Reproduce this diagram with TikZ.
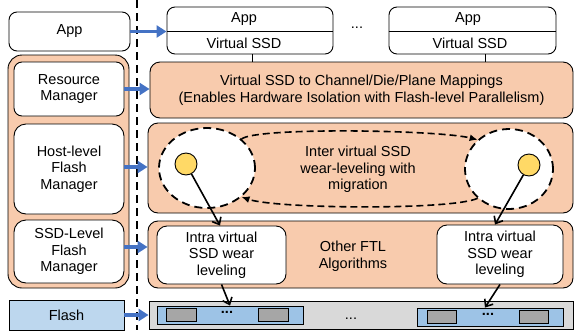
\documentclass[tikz,border=0pt]{standalone}
\usepackage{fontspec}
\setmainfont{Liberation Sans}
\usetikzlibrary{arrows.meta,shapes.geometric,calc}
\definecolor{peach}{HTML}{F8CBAD}
\definecolor{flashblue}{HTML}{BDD7EE}
\definecolor{chipblue}{HTML}{9DC3E6}
\definecolor{chipgray}{HTML}{A6A6A6}
\definecolor{bggray}{HTML}{D9D9D9}
\definecolor{sun}{HTML}{FFD966}
\definecolor{arrowblue}{HTML}{4472C4}
\begin{document}
\begin{tikzpicture}[x=1pt,y=-1pt,
  every node/.style={font=\fontsize{14.5}{16.5}\selectfont, align=center},
  wbox/.style={draw, fill=white, rounded corners=8pt, line width=0.9pt, inner sep=0pt},
  pbox/.style={draw, fill=peach, rounded corners=10pt, line width=0.9pt, inner sep=0pt},
  sqbox/.style={draw, line width=0.9pt, inner sep=0pt},
  txt/.style={inner sep=0pt},
  barrow/.style={draw=arrowblue, line width=3.8pt, -{Triangle[length=10pt,width=12pt]}},
  karrow/.style={line width=1.6pt, -{Straight Barb[length=6pt,width=10pt]}},
  darrow/.style={line width=1.6pt, dash pattern=on 7pt off 4pt, -{Latex[length=8pt,width=7pt]}},
  dline/.style={line width=1.8pt, dash pattern=on 8pt off 5pt},
]
\useasboundingbox (0,0) rectangle (574,330);

% left column
\node[wbox, minimum width=121pt, minimum height=39pt] (appL) at (69.5,31.5) {App};
\node[pbox, rounded corners=14pt, minimum width=121pt, minimum height=233pt] (cont) at (68.5,171.5) {};
\node[wbox, minimum width=110pt, minimum height=54pt] (rm) at (69,89) {Resource\\Manager};
\node[wbox, rounded corners=12pt, minimum width=110pt, minimum height=90pt] (hm) at (69,169) {Host-level\\Flash\\Manager};
\node[wbox, rounded corners=12pt, minimum width=110pt, minimum height=63pt] (sm) at (69,251.5) {SSD-Level\\Flash\\Manager};
\node[sqbox, fill=flashblue, minimum width=115pt, minimum height=30pt] (flashL) at (66.5,315) {Flash};

% dashed separator
\coordinate (vtop) at (137,0);
\coordinate (vbot) at (137,330);
\draw[dline] (vtop) -- (vbot);

% virtual SSD boxes
\node[wbox, minimum width=166pt, minimum height=47pt] (vs1) at (250,30.5) {};
\draw[line width=0.9pt] (vs1.west |- 0,31) -- (vs1.east |- 0,31);
\node[txt] (vs1a) at (244,19) {App};
\node[txt] (vs1b) at (244,43) {Virtual SSD};
\node[wbox, minimum width=167pt, minimum height=47pt] (vs2) at (472.5,30.5) {};
\draw[line width=0.9pt] (vs2.west |- 0,31) -- (vs2.east |- 0,31);
\node[txt] (vs2a) at (468,19) {App};
\node[txt] (vs2b) at (470,43) {Virtual SSD};
\node[txt] (vdots) at (357,28) {...};

% mapping
\node[pbox, minimum width=423pt, minimum height=56pt] (map) at (361.5,90) {Virtual SSD to Channel/Die/Plane Mappings\\(Enables Hardware Isolation with Flash-level Parallelism)};
\draw[line width=1pt] (vs1.south -| 252,0) -- (map.north -| 252,0);
\draw[line width=1pt] (vs2.south -| 485,0) -- (map.north -| 485,0);

% host-level region
\node[pbox, minimum width=425pt, minimum height=90pt] (hostR) at (360.5,168) {};
\node[ellipse, draw, dline, fill=white, minimum width=96pt, minimum height=80pt, inner sep=0pt] (elL) at (207,168) {};
\node[ellipse, draw, dline, fill=white, minimum width=88pt, minimum height=80pt, inner sep=0pt] (elR) at (509,169) {};
\node[circle, draw, line width=0.9pt, fill=sun, minimum size=22pt, inner sep=0pt] (ycL) at (186,164) {};
\node[circle, draw, line width=0.9pt, fill=sun, minimum size=22pt, inner sep=0pt] (ycR) at (529,165) {};
\node[txt] (inter) at (358,169.5) {Inter virtual SSD\\wear-leveling with\\migration};
\draw[darrow] (elL.40) .. controls +(14,-12) and +(-40,-10) .. (elR.137);
\draw[darrow] (elR.223) .. controls +(-25,12) and +(35,12) .. (elL.-40);

% SSD-level region
\node[pbox, minimum width=425pt, minimum height=67pt] (ssdR) at (360.5,254.5) {};
\node[wbox, rounded corners=10pt, minimum width=129pt, minimum height=58pt] (intraL) at (221.5,255) {Intra virtual\\SSD wear\\leveling};
\node[wbox, rounded corners=10pt, minimum width=126pt, minimum height=59pt] (intraR) at (500,254.5) {Intra virtual\\SSD wear\\leveling};
\node[txt] (other) at (353,256) {Other FTL\\Algorithms};

% flash region
\node[sqbox, fill=bggray, minimum width=424pt, minimum height=28pt] (flashR) at (361,315) {};
\node[sqbox, fill=chipblue, minimum width=146pt, minimum height=18pt] (chip1) at (230,315) {};
\node[sqbox, fill=chipgray, minimum width=30pt, minimum height=13pt] (g1) at (181,314.5) {};
\node[sqbox, fill=chipgray, minimum width=30pt, minimum height=13pt] (g2) at (273,314.5) {};
\node[txt] (d1) at (227,312) {\bfseries...};
\node[sqbox, fill=chipblue, minimum width=146pt, minimum height=18pt] (chip2) at (490,317) {};
\node[sqbox, fill=chipgray, minimum width=29pt, minimum height=13pt] (g3) at (441.5,316.5) {};
\node[sqbox, fill=chipgray, minimum width=29pt, minimum height=13pt] (g4) at (533.5,316.5) {};
\node[txt] (d2) at (488,314) {\bfseries...};
\node[txt] (d3) at (351,319) {...};

% black arrows
\draw[karrow] (ycL) -- ($(intraL.north)+(-1.5,0)$);
\draw[karrow] (ycR) -- ($(intraR.north)+(-5,0)$);
\draw[karrow] (intraL.south) -- (chip1.north);
\draw[karrow] (intraR.south) -- ($(chip2.north)+(-5,0)$);

% blue arrows
\draw[barrow] (appL.east) -- (vs1.west |- appL.east);
\draw[barrow] (rm.east) -- (map.west |- rm.east);
\draw[barrow] (hm.east |- 0,167) -- (hostR.west |- 0,167);
\draw[barrow] (sm.east |- 0,247) -- (ssdR.west |- 0,247);
\draw[barrow] (flashL.east) -- (flashR.west |- flashL.east);
\end{tikzpicture}
\end{document}
